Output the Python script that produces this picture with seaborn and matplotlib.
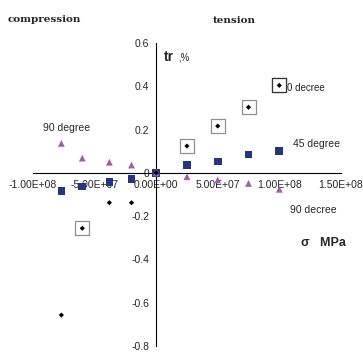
import numpy as np
import pandas as pd
import matplotlib
matplotlib.use("Agg")
from matplotlib import pyplot as plt
from matplotlib.ticker import MultipleLocator, FuncFormatter
import seaborn as sns

# stress (Pa) and strain (%)
stress = [-7.7e7, -6.0e7, -3.8e7, -2.0e7, 0.0, 2.5e7, 5.0e7, 7.5e7, 1.0e8]
deg0 = [-0.657, -0.256, -0.138, -0.138, 0.0, 0.124, 0.216, 0.303, 0.404]
deg45 = [-0.083, -0.064, -0.041, -0.029, 0.0, 0.037, 0.053, 0.085, 0.102]
deg90 = [0.136, 0.068, 0.049, 0.036, 0.0, -0.018, -0.033, -0.049, -0.076]
# points of the 0 degree series that carry a label box
boxed = [1, 5, 6, 7, 8]

sns.set_style("white")
plt.rcParams['font.family'] = ['Liberation Sans', 'DejaVu Sans']

df = pd.DataFrame({'stress': stress, 'd0': deg0, 'd45': deg45, 'd90': deg90})

fig = plt.figure(figsize=(3.63, 3.52), dpi=100)
ax = fig.add_axes([0.091, 0.017, 0.848, 0.861])

sns.scatterplot(data=df, x='stress', y='d45', marker='s', s=30, color='#27357f',
                edgecolor='none', ax=ax, zorder=3)
sns.scatterplot(data=df, x='stress', y='d90', marker='^', s=24, color='#a35ca8',
                edgecolor='none', ax=ax, zorder=4)
sns.scatterplot(data=df, x='stress', y='d0', marker='D', s=7, color='black',
                edgecolor='none', ax=ax, zorder=5)
bx = df.iloc[boxed]
ax.scatter(bx['stress'], bx['d0'], marker='s', s=90, facecolor='white',
           edgecolor='#909090', linewidth=0.9, zorder=2)
last = df.iloc[[8]]
ax.scatter(last['stress'], last['d0'], marker='s', s=90, facecolor='white',
           edgecolor='#333333', linewidth=0.9, zorder=2)

ax.set_xlim(-1.0e8, 1.5e8)
ax.set_ylim(-0.8, 0.6)
for s in ['top', 'right']:
    ax.spines[s].set_visible(False)
ax.spines['left'].set_position(('data', 0))
ax.spines['bottom'].set_position(('data', 0))
for s in ['left', 'bottom']:
    ax.spines[s].set_linewidth(0.8)
    ax.spines[s].set_color('black')

ax.xaxis.set_major_locator(MultipleLocator(5e7))
ax.xaxis.set_minor_locator(MultipleLocator(1.25e7))
ax.yaxis.set_major_locator(MultipleLocator(0.2))
ax.yaxis.set_minor_locator(MultipleLocator(0.05))
ax.xaxis.set_major_formatter(FuncFormatter(lambda v, p: '%.2E' % v))
ax.yaxis.set_major_formatter(FuncFormatter(lambda v, p: '0' if abs(v) < 1e-9 else '%g' % round(v, 1)))
ax.tick_params(axis='both', which='major', direction='out', length=3, width=0.8,
               labelsize=7.5, pad=2)
ax.tick_params(axis='both', which='minor', direction='in', length=2, width=0.6)
ax.set_xlabel('')
ax.set_ylabel('')

fig.text(0.022, 0.937, 'compression', fontsize=7.5, fontweight='bold', family='DejaVu Serif')
fig.text(0.587, 0.934, 'tension', fontsize=7.5, fontweight='bold', family='DejaVu Serif')
fig.text(0.452, 0.828, 'tr', fontsize=10, fontweight='bold')
fig.text(0.49, 0.828, ',%', fontsize=7)
fig.text(0.792, 0.742, '0 decree', fontsize=7)
fig.text(0.806, 0.582, '45 degree', fontsize=7.5)
fig.text(0.118, 0.628, '90 degree', fontsize=7.5)
fig.text(0.798, 0.395, '90 decree', fontsize=7.5)
fig.text(0.83, 0.302, 'σ   MPa', fontsize=9, fontweight='bold')

fig.savefig('out.png', dpi=100)
